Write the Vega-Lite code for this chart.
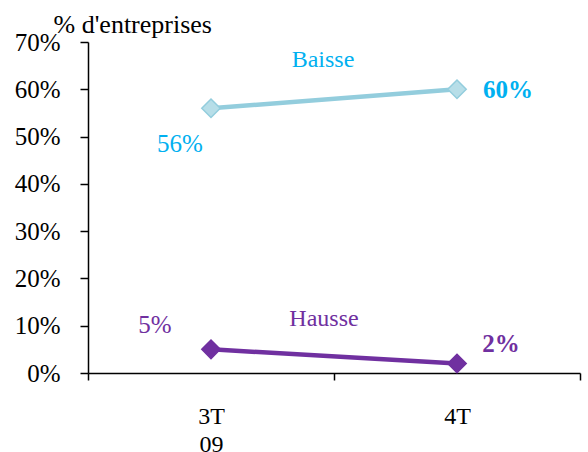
{
  "$schema": "https://vega.github.io/schema/vega-lite/v6.json",
  "autosize": {"type": "none"},
  "padding": {"left": 88, "top": 42, "right": 8, "bottom": 79},
  "width": 492,
  "height": 331,
  "background": "white",
  "config": {
    "view": {"stroke": null},
    "font": "Liberation Serif",
    "axis": {"grid": false, "domainColor": "black", "tickColor": "black", "labelColor": "black", "labelFont": "Liberation Serif", "labelFontSize": 25, "domainWidth": 1.5, "tickWidth": 1.5}
  },
  "data": {
    "values": [
      {"quarter": "3T 09", "series": "Baisse", "value": 0.56},
      {"quarter": "4T", "series": "Baisse", "value": 0.60},
      {"quarter": "3T 09", "series": "Hausse", "value": 0.05},
      {"quarter": "4T", "series": "Hausse", "value": 0.02}
    ]
  },
  "encoding": {
    "x": {
      "field": "quarter", "type": "nominal", "sort": ["3T 09", "4T"],
      "scale": {"paddingInner": 0, "paddingOuter": 0},
      "axis": {"title": null, "labelAngle": 0, "tickBand": "extent", "tickSize": 7, "labelPadding": 24, "labelBaseline": "top", "labelLineHeight": 28, "labelFontSize": 24,
        "labelExpr": "datum.value == '3T 09' ? ['3T', '09'] : datum.value"}
    },
    "y": {
      "field": "value", "type": "quantitative",
      "scale": {"domain": [0, 0.7], "nice": false},
      "axis": {"values": [0, 0.1, 0.2, 0.3, 0.4, 0.5, 0.6, 0.7], "format": ".0%", "tickSize": 8, "labelPadding": 20,
        "title": "% d'entreprises", "titleAngle": 0, "titleAlign": "left", "titleBaseline": "alphabetic", "titleX": -35, "titleY": -10,
        "titleFont": "Liberation Serif", "titleFontSize": 26, "titleFontWeight": "normal", "titleColor": "black"}
    }
  },
  "layer": [
    {
      "mark": {"type": "line", "strokeWidth": 4.5},
      "encoding": {
        "color": {"field": "series", "type": "nominal", "scale": {"domain": ["Baisse", "Hausse"], "range": ["#93CDDD", "#7030A0"]}, "legend": null}
      }
    },
    {
      "mark": {"type": "point", "shape": "diamond", "filled": true, "size": 340, "strokeWidth": 1.5, "opacity": 1},
      "encoding": {
        "fill": {"field": "series", "type": "nominal", "scale": {"domain": ["Baisse", "Hausse"], "range": ["#B7DEE8", "#7030A0"]}, "legend": null},
        "stroke": {"field": "series", "type": "nominal", "scale": {"domain": ["Baisse", "Hausse"], "range": ["#93CDDD", "#7030A0"]}, "legend": null}
      }
    },
    {
      "transform": [{"filter": "datum.series == 'Baisse' && datum.quarter == '3T 09'"}],
      "mark": {"type": "text", "font": "Liberation Serif", "fontSize": 25, "color": "#00B0F0", "dx": -31, "dy": 36},
      "encoding": {"text": {"field": "value", "type": "quantitative", "format": ".0%"}}
    },
    {
      "transform": [{"filter": "datum.series == 'Baisse' && datum.quarter == '4T'"}],
      "mark": {"type": "text", "font": "Liberation Serif", "fontSize": 25, "fontWeight": "bold", "color": "#00B0F0", "dx": 51, "dy": 1},
      "encoding": {"text": {"field": "value", "type": "quantitative", "format": ".0%"}}
    },
    {
      "transform": [{"filter": "datum.series == 'Hausse' && datum.quarter == '3T 09'"}],
      "mark": {"type": "text", "font": "Liberation Serif", "fontSize": 25, "color": "#7030A0", "dx": -56, "dy": -24},
      "encoding": {"text": {"field": "value", "type": "quantitative", "format": ".0%"}}
    },
    {
      "transform": [{"filter": "datum.series == 'Hausse' && datum.quarter == '4T'"}],
      "mark": {"type": "text", "font": "Liberation Serif", "fontSize": 25, "fontWeight": "bold", "color": "#7030A0", "dx": 44, "dy": -20},
      "encoding": {"text": {"field": "value", "type": "quantitative", "format": ".0%"}}
    },
    {
      "transform": [{"aggregate": [{"op": "mean", "field": "value", "as": "value"}], "groupby": ["series"]}, {"filter": "datum.series == 'Baisse'"}],
      "mark": {"type": "text", "font": "Liberation Serif", "fontSize": 24, "color": "#00B0F0", "dx": -11, "dy": -39},
      "encoding": {
        "x": {"datum": "3T 09", "bandPosition": 1},
        "text": {"field": "series", "type": "nominal"}
      }
    },
    {
      "transform": [{"aggregate": [{"op": "mean", "field": "value", "as": "value"}], "groupby": ["series"]}, {"filter": "datum.series == 'Hausse'"}],
      "mark": {"type": "text", "font": "Liberation Serif", "fontSize": 24, "color": "#7030A0", "dx": -10, "dy": -37},
      "encoding": {
        "x": {"datum": "3T 09", "bandPosition": 1},
        "text": {"field": "series", "type": "nominal"}
      }
    }
  ]
}
